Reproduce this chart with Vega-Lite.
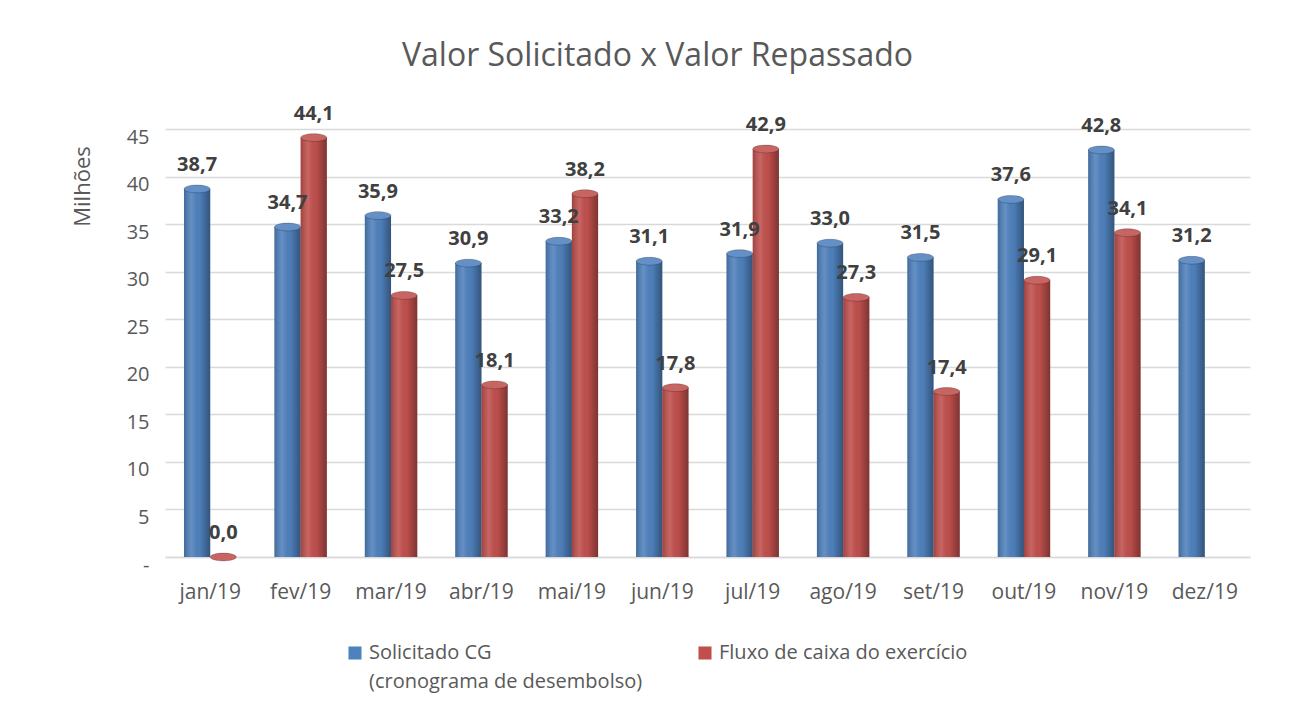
{
  "$schema": "https://vega.github.io/schema/vega-lite/v6.json",
  "autosize": "none",
  "width": 1085,
  "height": 428,
  "padding": {"left": 165, "top": 129, "right": 46, "bottom": 154},
  "background": "white",
  "title": {
    "text": "Valor Solicitado x Valor Repassado",
    "font": "Open Sans",
    "fontSize": 32,
    "fontWeight": "normal",
    "color": "#595959",
    "offset": 31,
    "dx": -50
  },
  "data": {
    "values": [
      {"mes": "jan/19", "serie": "Solicitado CG", "valor": 38.7},
      {"mes": "jan/19", "serie": "Fluxo de caixa do exercício", "valor": 0.0},
      {"mes": "fev/19", "serie": "Solicitado CG", "valor": 34.7},
      {"mes": "fev/19", "serie": "Fluxo de caixa do exercício", "valor": 44.1},
      {"mes": "mar/19", "serie": "Solicitado CG", "valor": 35.9},
      {"mes": "mar/19", "serie": "Fluxo de caixa do exercício", "valor": 27.5},
      {"mes": "abr/19", "serie": "Solicitado CG", "valor": 30.9},
      {"mes": "abr/19", "serie": "Fluxo de caixa do exercício", "valor": 18.1},
      {"mes": "mai/19", "serie": "Solicitado CG", "valor": 33.2},
      {"mes": "mai/19", "serie": "Fluxo de caixa do exercício", "valor": 38.2},
      {"mes": "jun/19", "serie": "Solicitado CG", "valor": 31.1},
      {"mes": "jun/19", "serie": "Fluxo de caixa do exercício", "valor": 17.8},
      {"mes": "jul/19", "serie": "Solicitado CG", "valor": 31.9},
      {"mes": "jul/19", "serie": "Fluxo de caixa do exercício", "valor": 42.9},
      {"mes": "ago/19", "serie": "Solicitado CG", "valor": 33.0},
      {"mes": "ago/19", "serie": "Fluxo de caixa do exercício", "valor": 27.3},
      {"mes": "set/19", "serie": "Solicitado CG", "valor": 31.5},
      {"mes": "set/19", "serie": "Fluxo de caixa do exercício", "valor": 17.4},
      {"mes": "out/19", "serie": "Solicitado CG", "valor": 37.6},
      {"mes": "out/19", "serie": "Fluxo de caixa do exercício", "valor": 29.1},
      {"mes": "nov/19", "serie": "Solicitado CG", "valor": 42.8},
      {"mes": "nov/19", "serie": "Fluxo de caixa do exercício", "valor": 34.1},
      {"mes": "dez/19", "serie": "Solicitado CG", "valor": 31.2}
    ]
  },
  "encoding": {
    "x": {
      "field": "mes",
      "type": "nominal",
      "sort": ["jan/19", "fev/19", "mar/19", "abr/19", "mai/19", "jun/19", "jul/19", "ago/19", "set/19", "out/19", "nov/19", "dez/19"],
      "scale": {"paddingInner": 0.42, "paddingOuter": 0.21},
      "axis": {
        "title": null,
        "labelAngle": 0,
        "labelFont": "Open Sans",
        "labelFontSize": 21,
        "labelColor": "#595959",
        "labelPadding": 24,
        "ticks": false,
        "domainColor": "#d9d9d9",
        "domainWidth": 1.5
      }
    },
    "xOffset": {"field": "serie", "sort": ["Solicitado CG", "Fluxo de caixa do exercício"]},
    "y": {
      "field": "valor",
      "type": "quantitative",
      "scale": {"domain": [0, 45], "nice": false},
      "axis": {
        "title": "Milhões",
        "titleFont": "Open Sans",
        "titleFontSize": 22,
        "titleFontWeight": "normal",
        "titleColor": "#595959",
        "titleAnchor": "middle",
        "titleY": 57,
        "titlePadding": 32,
        "values": [0, 5, 10, 15, 20, 25, 30, 35, 40, 45],
        "labelExpr": "datum.value == 0 ? '-' : datum.label",
        "labelFont": "Open Sans",
        "labelFontSize": 20,
        "labelColor": "#595959",
        "labelPadding": 16,
        "labelOffset": 8,
        "ticks": false,
        "domain": false,
        "grid": true,
        "gridColor": "#d9d9d9",
        "gridWidth": 1.5
      }
    }
  },
  "layer": [
    {
      "mark": {"type": "bar"},
      "encoding": {
        "color": {
          "field": "serie",
          "type": "nominal",
          "sort": ["Solicitado CG", "Fluxo de caixa do exercício"],
          "scale": {"domain": ["Solicitado CG", "Fluxo de caixa do exercício"], "range": ["#4F81BD", "#C0504D"]},
          "legend": {
            "title": null,
            "orient": "none",
            "legendX": 180,
            "legendY": 514,
            "direction": "horizontal",
            "columns": 2,
            "columnPadding": 52,
            "symbolType": "square",
            "symbolSize": 170,
            "symbolStrokeWidth": 0,
            "labelFont": "Open Sans",
            "labelFontSize": 20,
            "labelColor": "#595959",
            "labelLimit": 400,
            "labelBaseline": "middle",
            "labelExpr": "datum.label == 'Solicitado CG' ? ['Solicitado CG', '(cronograma de desembolso)'] : [datum.label, ' ']",
            "encode": {"labels": {"update": {"lineHeight": {"value": 29}}}}
          }
        }
      }
    },
    {
      "mark": {
        "type": "bar",
        "fill": {
          "gradient": "linear",
          "x1": 0, "x2": 1, "y1": 0, "y2": 0,
          "stops": [
            {"offset": 0, "color": "rgba(0,0,0,0.18)"},
            {"offset": 0.3, "color": "rgba(255,255,255,0.12)"},
            {"offset": 0.6, "color": "rgba(0,0,0,0.02)"},
            {"offset": 1, "color": "rgba(0,0,0,0.35)"}
          ]
        }
      }
    },
    {
      "mark": {
        "type": "point",
        "shape": "M-1,0A1,0.3,0,1,0,1,0A1,0.3,0,1,0,-1,0Z",
        "filled": true,
        "opacity": 1,
        "size": 680
      },
      "encoding": {
        "color": {"field": "serie", "type": "nominal", "legend": null}
      }
    },
    {
      "mark": {
        "type": "point",
        "shape": "M-1,0A1,0.3,0,1,0,1,0A1,0.3,0,1,0,-1,0Z",
        "filled": true,
        "opacity": 1,
        "size": 680,
        "fill": "rgba(255,255,255,0.12)",
        "stroke": "rgba(0,0,0,0.25)",
        "strokeWidth": 0.8
      }
    },
    {
      "mark": {"type": "text", "dy": -24, "font": "Open Sans", "fontSize": 20, "fontWeight": "bold", "color": "#404040"},
      "encoding": {"text": {"field": "valor", "type": "quantitative", "format": ".1f"}}
    }
  ],
  "config": {
    "view": {"stroke": null},
    "locale": {
      "number": {"decimal": ",", "thousands": ".", "grouping": [3], "currency": ["R$", ""]}
    }
  }
}
